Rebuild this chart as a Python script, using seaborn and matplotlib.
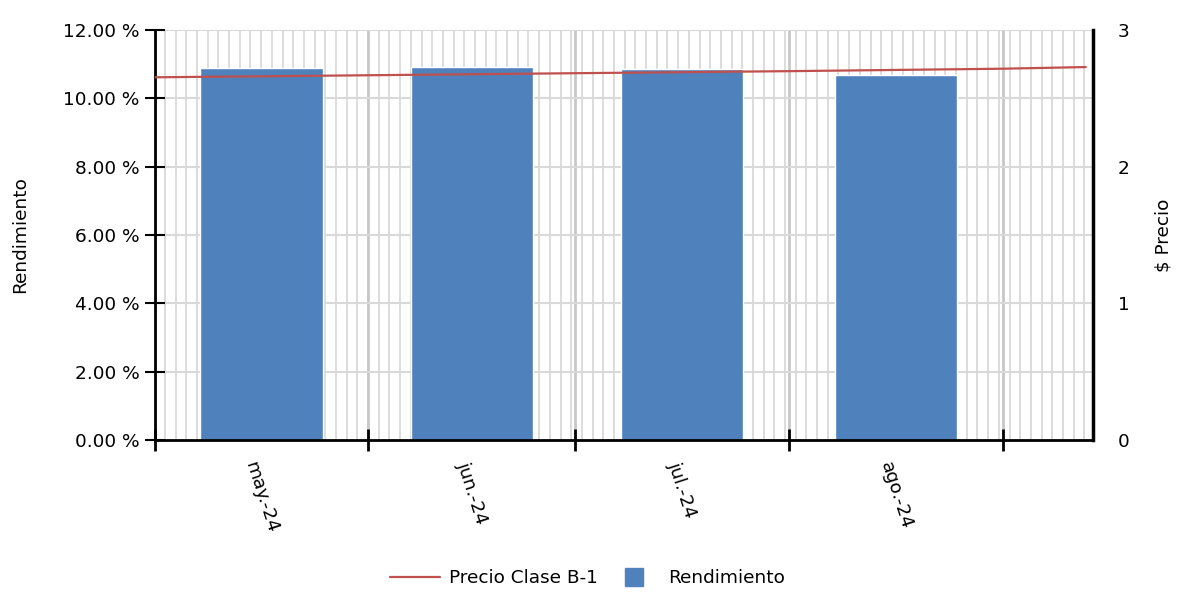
"""Rendimiento mensual y precio Clase B-1 (may-ago 2024)."""

import matplotlib
matplotlib.use("Agg")
import matplotlib.dates as mdates
import matplotlib.pyplot as plt
import matplotlib.ticker as mticker
from matplotlib.lines import Line2D
import numpy as np
import pandas as pd
import seaborn as sns

# data
meses = ["2024-05-01", "2024-06-01", "2024-07-01", "2024-08-01"]
etiquetas = ["may.-24", "jun.-24", "jul.-24", "ago.-24"]
rendimiento = [10.89, 10.92, 10.86, 10.68]  # %

precio_fechas = ["2024-05-01", "2024-06-01", "2024-07-01", "2024-08-01",
                 "2024-09-01", "2024-09-13"]
precio = [2.655, 2.670, 2.685, 2.700, 2.718, 2.730]

BLUE = "#4F81BD"
RED = "#C0504D"
GRID = "#D9D9D9"
FS = 13.3

sns.set_style("white")
plt.rcParams["font.family"] = ["DejaVu Sans"]
plt.rcParams["font.size"] = FS
plt.rcParams["text.color"] = "black"
plt.rcParams["xtick.color"] = "black"
plt.rcParams["ytick.color"] = "black"
plt.rcParams["axes.labelcolor"] = "black"

fig = plt.figure(figsize=(11.8, 5.92), dpi=100)
ax = fig.add_axes([0.131, 0.257, 0.795, 0.692])
ax2 = ax.twinx()

inicio = pd.Timestamp("2024-05-01")
fin = pd.Timestamp("2024-09-14")
x0, x1 = mdates.date2num(inicio), mdates.date2num(fin)

# bars centered in each month
month_start = pd.to_datetime(meses)
dias = month_start.days_in_month
centros = mdates.date2num(month_start) + np.asarray(dias) / 2.0
df = pd.DataFrame({"x": centros, "rend": rendimiento})
sns.barplot(data=df, x="x", y="rend", native_scale=True, width=0.58,
            color=BLUE, saturation=1, ax=ax, zorder=2)

# price line
dp = pd.DataFrame({"x": mdates.date2num(pd.to_datetime(precio_fechas)),
                   "precio": precio})
sns.lineplot(data=dp, x="x", y="precio", color=RED, linewidth=1.6, ax=ax2)

ax.set_xlim(x0, x1)
ax.set_ylim(0, 12)
ax2.set_ylim(0, 3)

# grid: fine vertical lines plus month boundaries, horizontal every 2 %
ax.set_axisbelow(True)
for xv in np.arange(x0 + 1.5, x1, 1.55):
    ax.axvline(xv, color=GRID, lw=1.3, zorder=0)
for m in mdates.date2num(pd.to_datetime(meses + ["2024-09-01"])):
    ax.axvline(m, color="#C8C8C8", lw=2.0, zorder=0)
for yv in range(2, 13, 2):
    ax.axhline(yv, color=GRID, lw=1.5, zorder=0)

# x ticks: marks at month starts, labels mid-month
ax.xaxis.set_major_locator(mticker.FixedLocator(
    mdates.date2num(pd.to_datetime(meses + ["2024-09-01"]))))
ax.xaxis.set_major_formatter(mticker.NullFormatter())
ax.xaxis.set_minor_locator(mticker.FixedLocator(centros))
ax.xaxis.set_minor_formatter(mticker.FixedFormatter(etiquetas))
ax.tick_params(axis="x", which="major", bottom=True, direction="inout",
               length=16, width=2, color="black")
ax.tick_params(axis="x", which="minor", bottom=True, length=0, pad=14,
               labelsize=FS)
for lab in ax.get_xticklabels(minor=True):
    lab.set_rotation(-72)
    lab.set_ha("center")

ax.set_yticks(range(0, 13, 2))
ax.yaxis.set_major_formatter(mticker.FuncFormatter(lambda v, _: f"{v:.2f} %"))
ax.tick_params(axis="y", left=True, direction="inout", length=14, width=1.5,
               color="black", labelsize=FS, pad=4)
ax.set_xlabel("")
ax.set_ylabel("Rendimiento", fontsize=FS, labelpad=24)

ax2.set_yticks([0, 1, 2, 3])
ax2.tick_params(axis="y", length=0, pad=18, labelsize=FS)
ax2.set_ylabel("$ Precio", fontsize=FS, labelpad=18)
ax2.grid(False)

ax.spines["top"].set_visible(False)
ax2.spines["top"].set_visible(False)
ax.spines["left"].set_linewidth(2)
ax.spines["bottom"].set_linewidth(2)
ax.spines["right"].set_visible(False)
ax2.spines["left"].set_visible(False)
ax2.spines["bottom"].set_visible(False)
ax2.spines["right"].set_linewidth(2.5)
for a in (ax, ax2):
    for s in a.spines.values():
        s.set_color("black")

handles = [Line2D([0], [0], color=RED, lw=1.6),
           Line2D([0], [0], color=BLUE, marker="s", markersize=12.5,
                  linestyle="none")]
fig.legend(handles, ["Precio Clase B-1", "Rendimiento"], loc="lower center",
           bbox_to_anchor=(0.498, -0.02), ncol=2, frameon=False, fontsize=FS,
           handlelength=2.7, columnspacing=0.62, handletextpad=0.5)

fig.savefig("out.png", dpi=100)
plt.close(fig)
